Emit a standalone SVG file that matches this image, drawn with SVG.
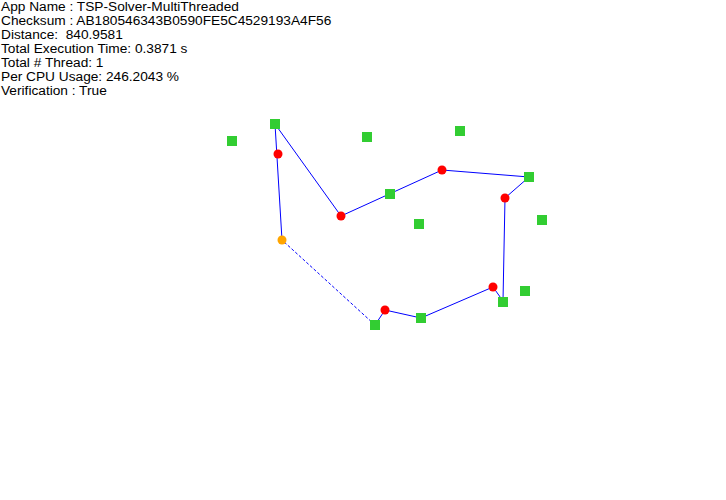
<svg xmlns="http://www.w3.org/2000/svg" width="726" height="500" viewBox="0 0 726 500">
<style>
.t{font-family:"Liberation Sans",Arial,sans-serif;font-size:13.7px;fill:#000;white-space:pre}
.c{fill:#32cd32}
.r{fill:#ff0000}
.o{fill:#ffa500}
.e{stroke:#0000ff;stroke-width:1;fill:none}
.d{stroke-dasharray:3,2}
</style>
<rect width="726" height="500" fill="#fff"/>
<g id="info">
<text class="t" x="1" y="11">App Name : TSP-Solver-MultiThreaded</text>
<text class="t" x="1" y="25">Checksum : AB180546343B0590FE5C4529193A4F56</text>
<text class="t" x="1" y="39" xml:space="preserve">Distance:  840.9581</text>
<text class="t" x="1" y="53">Total Execution Time: 0.3871 s</text>
<text class="t" x="1" y="67">Total # Thread: 1</text>
<text class="t" x="1" y="81">Per CPU Usage: 246.2043 %</text>
<text class="t" x="1" y="95">Verification : True</text>
</g>
<g id="connectors">
<line class="e" x1="282" y1="240" x2="275" y2="124"/>
<line class="e" x1="275" y1="124" x2="341" y2="216"/>
<line class="e" x1="341" y1="216" x2="442" y2="170"/>
<line class="e" x1="442" y1="170" x2="529" y2="177"/>
<line class="e" x1="529" y1="177" x2="505" y2="198"/>
<line class="e" x1="505" y1="198" x2="503" y2="301"/>
<line class="e" x1="503" y1="301" x2="493" y2="287"/>
<line class="e" x1="493" y1="287" x2="421" y2="318"/>
<line class="e" x1="421" y1="318" x2="385" y2="310"/>
<line class="e" x1="385" y1="310" x2="375" y2="325"/>
<line class="e d" x1="375" y1="325" x2="282" y2="240"/>
</g>
<g id="city1"><rect class="c" x="270" y="119" width="10" height="10"/></g>
<g id="city2"><rect class="c" x="227" y="136" width="10" height="10"/></g>
<g id="city3"><rect class="c" x="362" y="132" width="10" height="10"/></g>
<g id="city4"><rect class="c" x="455" y="126" width="10" height="10"/></g>
<g id="city5"><rect class="c" x="385" y="189" width="10" height="10"/></g>
<g id="city6"><rect class="c" x="524" y="172" width="10" height="10"/></g>
<g id="city7"><rect class="c" x="414" y="219" width="10" height="10"/></g>
<g id="city8"><rect class="c" x="537" y="215" width="10" height="10"/></g>
<g id="city9"><rect class="c" x="520" y="286" width="10" height="10"/></g>
<g id="city10"><rect class="c" x="498" y="297" width="10" height="10"/></g>
<g id="city11"><rect class="c" x="416" y="313" width="10" height="10"/></g>
<g id="city12"><rect class="c" x="370" y="320" width="10" height="10"/></g>
<g id="stop1"><circle class="r" cx="278" cy="154" r="4.5"/></g>
<g id="stop2"><circle class="r" cx="341" cy="216" r="4.5"/></g>
<g id="stop3"><circle class="r" cx="442" cy="170" r="4.5"/></g>
<g id="stop4"><circle class="r" cx="505" cy="198" r="4.5"/></g>
<g id="stop5"><circle class="r" cx="493" cy="287" r="4.5"/></g>
<g id="stop6"><circle class="r" cx="385" cy="310" r="4.5"/></g>
<g id="start"><circle class="o" cx="282" cy="240" r="4.5"/></g>
</svg>
